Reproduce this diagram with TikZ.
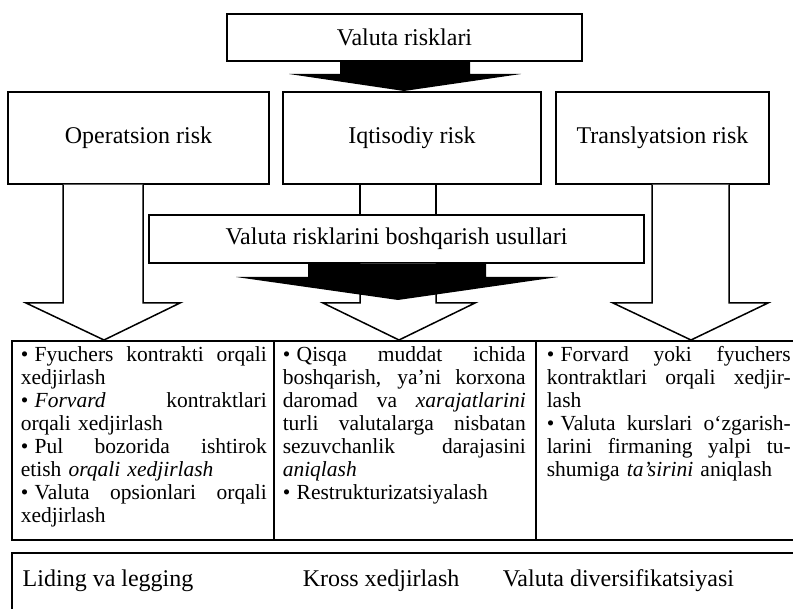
\documentclass[tikz,border=0pt]{standalone}
\usepackage{fontspec}
\setmainfont{Liberation Serif}
\setlength{\parindent}{0pt}
\newcommand\jl[2]{\leavevmode{\spaceskip=.25em plus 1fil\relax\hbox to #1{#2}}}
\newcommand\bul{•\kern.3em}
\begin{document}
\begin{tikzpicture}[x=1pt,y=-1pt,line width=1.5pt,
  box/.style={draw,line width=1.5pt,inner sep=0pt,font=\fontsize{24}{28}\selectfont},
  headtext/.style={font=\fontsize{24}{28}\selectfont,inner sep=0pt},
  cell/.style={anchor=base west,inner sep=0pt,align=left,font=\fontsize{21.5}{23}\selectfont},
  whitearrow/.style={draw,fill=white,line width=1.5pt,line join=miter},
  blackarrow/.style={fill=black,draw=none},
  rule/.style={draw,line width=1.5pt}]
\useasboundingbox (0,0) rectangle (793,609);

% top box and black arrow
\node[box,minimum width=355pt,minimum height=47pt] (top) at (404.5,37.5) {Valuta risklari};
\fill[blackarrow] (340,0 |- top.south) -- (470,0 |- top.south) -- (470,74) -- (521,74) -- (404,91) -- (289,74) -- (340,74) -- cycle;

% three risk boxes
\node[box,minimum width=261pt,minimum height=92pt] (op) at (138.5,138) {Operatsion risk};
\node[box,minimum width=258pt,minimum height=92pt] (iq) at (412,138) {Iqtisodiy risk};
\node[box,minimum width=213pt,minimum height=92pt] (tr) at (662.5,138) {Translyatsion risk};

% methods box
\node[box,minimum width=495pt,minimum height=48pt] (mid) at (396.5,239) {Valuta risklarini boshqarish usullari};
\draw (360,0 |- iq.south) -- (360,0 |- mid.north);
\draw (436,0 |- iq.south) -- (436,0 |- mid.north);

% white arrows
\draw[whitearrow] (63,0 |- op.south) -- (63,303) -- (26,303) -- (104,340) -- (180,303) -- (143,303) -- (143,0 |- op.south);
\draw[whitearrow] (652,0 |- tr.south) -- (652,303) -- (613,303) -- (691,340) -- (768,303) -- (729,303) -- (729,0 |- tr.south);
\draw[whitearrow] (360,0 |- mid.south) -- (360,303) -- (323,303) -- (399,340) -- (475,303) -- (436,303) -- (436,0 |- mid.south);
\fill[blackarrow] (308,0 |- mid.south) -- (486,0 |- mid.south) -- (486,277) -- (558,277) -- (398,300) -- (236,277) -- (308,277) -- cycle;

% table
\draw[rule] (800,341) -- (12,341) -- (12,540) -- (800,540);
\draw[rule] (274,341) -- (274,540);
\draw[rule] (536,341) -- (536,540);

\node[cell,text width=246pt] (c1) at (20,362) {%
\jl{246pt}{\bul Fyuchers kontrakti orqali}\\
xedjirlash\\
\jl{246pt}{\bul\textit{Forvard} kontraktlari}\\
orqali xedjirlash\\
\jl{246pt}{\bul Pul bozorida ishtirok}\\
etish \textit{orqali xedjirlash}\\
\jl{246pt}{\bul Valuta opsionlari orqali}\\
xedjirlash};

\node[cell,text width=243pt] (c2) at (282,362) {%
\jl{243pt}{\bul Qisqa muddat ichida}\\
\jl{243pt}{boshqarish, ya’ni korxona}\\
\jl{243pt}{daromad va \textit{xarajatlarini}}\\
\jl{243pt}{turli valutalarga nisbatan}\\
\jl{243pt}{sezuvchanlik darajasini}\\
\textit{aniqlash}\\
\bul Restrukturizatsiyalash};

\node[cell,text width=244pt] (c3) at (546,362) {%
\jl{244pt}{\bul Forvard yoki fyuchers}\\
\jl{244pt}{kontraktlari orqali xedjir-}\\
lash\\
\jl{244pt}{\bul Valuta kurslari o‘zgarish-}\\
\jl{244pt}{larini firmaning yalpi tu-}\\
shumiga \textit{ta’sirini} aniqlash};

% bottom box
\draw[rule] (12,615) -- (12,553) -- (800,553);
\node[headtext,anchor=base west] (b1) at (22,586) {Liding va legging};
\node[headtext,anchor=base west] (b2) at (302,586) {Kross xedjirlash};
\node[headtext,anchor=base west] (b3) at (502,586) {Valuta diversifikatsiyasi};
\end{tikzpicture}
\end{document}
